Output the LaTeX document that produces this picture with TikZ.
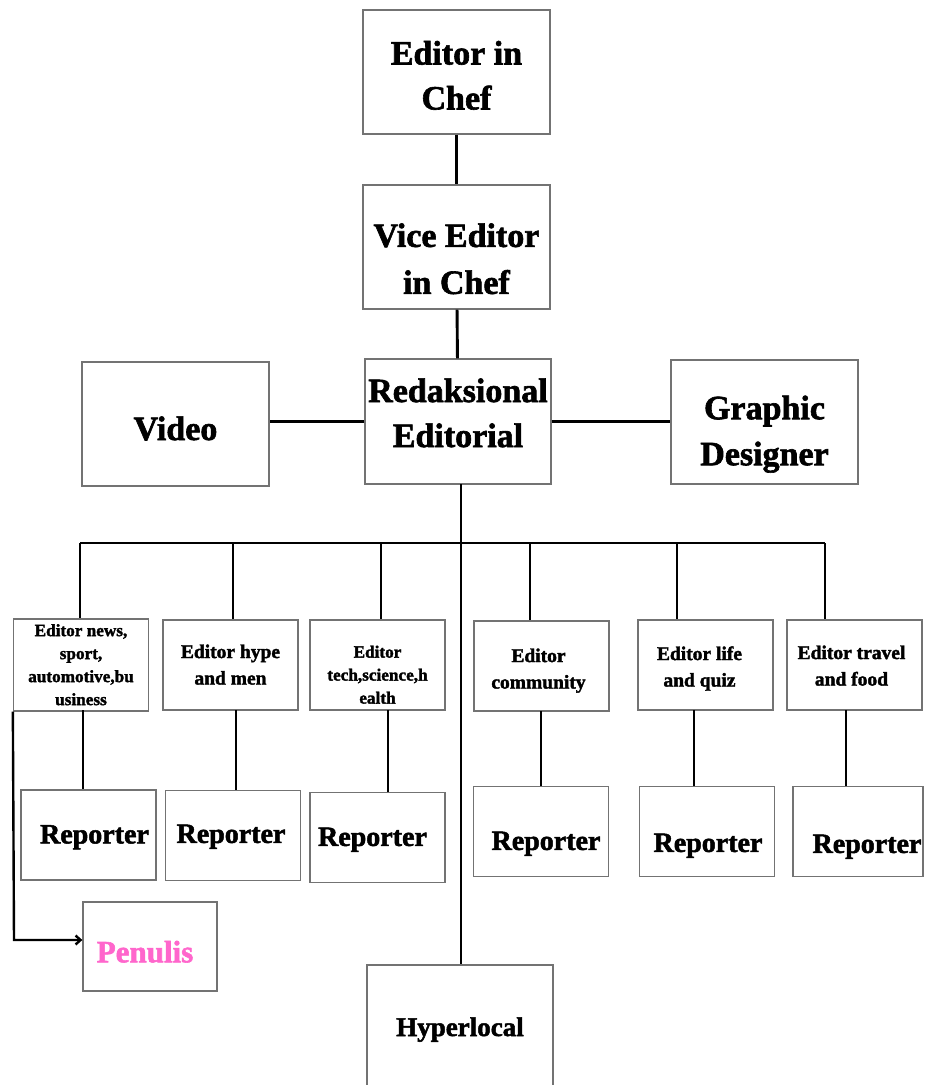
\documentclass[tikz,border=0pt]{standalone}
\usepackage{fontspec}
\setmainfont{Liberation Serif}[BoldFeatures={FakeBold=1.8}]
\usetikzlibrary{arrows.meta}
\definecolor{boxgray}{RGB}{115,115,115}
\definecolor{penpink}{RGB}{255,102,204}
% shift the text inside a box by (dx,dy) without changing the box size
\newcommand{\mvtext}[3]{\raisebox{#2}[\height][\depth]{\hspace*{#1}\begin{tabular}{@{}c@{}}#3\end{tabular}\hspace*{-#1}}}
\tikzset{
  box/.style={draw=boxgray, line width=1.3pt, fill=white, inner sep=0pt, align=center, font=\bfseries},
  big/.style={box, font=\fontsize{34}{45}\selectfont\bfseries},
  ed/.style={box, minimum width=135pt, minimum height=90pt, font=\fontsize{19.5}{26.5}\selectfont\bfseries},
  eds/.style={box, minimum width=135pt, minimum height=90pt, font=\fontsize{17.2}{23}\selectfont\bfseries},
  rep/.style={box, minimum width=135pt, minimum height=90pt, font=\fontsize{28}{32}\selectfont\bfseries},
  conn/.style={line width=2.9pt, black},
}
\begin{document}
\begin{tikzpicture}[x=1pt,y=-1pt]
\useasboundingbox (0,0) rectangle (927,1085);
\clip (0,0) rectangle (927,1085);
% top chain
\node[big, minimum width=187pt, minimum height=124pt] (eic) at (456.5,72) {\mvtext{0pt}{-6pt}{Editor in\\Chef}};
\node[big, minimum width=187pt, minimum height=124pt, font=\fontsize{34}{47}\selectfont\bfseries] (vice) at (456.5,247) {\mvtext{0pt}{-14pt}{Vice Editor\\in Chef}};
\node[big, minimum width=186pt, minimum height=125pt] (red) at (458,421.5) {\mvtext{0pt}{6pt}{Redaksional\\Editorial}};
\node[big, minimum width=187pt, minimum height=124pt] (video) at (175.5,424) {\mvtext{0pt}{-7pt}{Video}};
\node[big, minimum width=187pt, minimum height=124pt, font=\fontsize{34}{46}\selectfont\bfseries] (graphic) at (764.5,422) {\mvtext{0pt}{-11pt}{Graphic\\Designer}};
\node[box, minimum width=186pt, minimum height=124pt, font=\fontsize{27}{30}\selectfont\bfseries] (hyper) at (460,1027) {\mvtext{0pt}{-3pt}{Hyperlocal}};
% editors
\node[eds] (e1) at (81,665) {\mvtext{0pt}{-1pt}{Editor news,\\sport,\\automotive,bu\\usiness}};
\node[ed] (e2) at (230.5,665) {\mvtext{0pt}{-1pt}{Editor hype\\and men}};
\node[eds] (e3) at (377.5,665) {\mvtext{0pt}{-11pt}{Editor\\tech,science,h\\ealth}};
\node[ed] (e4) at (541.5,666) {\mvtext{-3pt}{-4pt}{Editor\\community}};
\node[ed] (e5) at (705.5,665) {\mvtext{-6pt}{-3pt}{Editor life\\and quiz}};
\node[ed] (e6) at (854.5,665) {\mvtext{-3pt}{-2pt}{Editor travel\\and food}};
% reporters
\node[rep] (r1) at (88.5,835) {\mvtext{6pt}{-2pt}{Reporter}};
\node[rep] (r2) at (233,835.5) {\mvtext{-2pt}{-1pt}{Reporter}};
\node[rep] (r3) at (377.5,837.5) {\mvtext{-5pt}{-2pt}{Reporter}};
\node[rep] (r4) at (541,831.5) {\mvtext{5pt}{-12pt}{Reporter}};
\node[rep] (r5) at (707,831.5) {\mvtext{1pt}{-14pt}{Reporter}};
\node[rep, minimum width=130pt] (r6) at (858,831.5) {\mvtext{9pt}{-15pt}{Reporter}};
\node[box, minimum width=134pt, minimum height=89pt, text=penpink, font=\fontsize{31}{34}\selectfont\bfseries] (pen) at (150,946.5) {\mvtext{-5pt}{-9pt}{Penulis}};
% connectors top
\draw[conn] (eic) -- (vice);
\draw[conn] (vice) -- (red);
\draw[conn] (red.west) -- (red.west -| video.east);
\draw[conn] (red.east) -- (red.east -| graphic.west);
\coordinate (trunk) at (461,484);
\draw[conn] (trunk) -- (trunk |- hyper.north);
% bus
\coordinate (b1) at (80,543);
\coordinate (b2) at (233,543);
\coordinate (b3) at (381,543);
\coordinate (b4) at (530,543);
\coordinate (b5) at (677,543);
\coordinate (b6) at (825,543);
\draw[conn] (b1) -- (b6);
\foreach \i in {1,...,6} {\draw[conn] (b\i) -- (b\i |- e\i.north);}
% editor -> reporter
\coordinate (s1) at (83,710);
\coordinate (s2) at (236,710);
\coordinate (s3) at (388,710);
\coordinate (s4) at (541,711);
\coordinate (s5) at (694,710);
\coordinate (s6) at (846,710);
\foreach \i in {1,...,6} {\draw[conn] (s\i) -- (s\i |- r\i.north);}
% penulis arrow
\coordinate (pa) at (14,940);
\draw[conn, line width=2.4pt, -{Straight Barb[length=5pt,width=9pt]}] (e1.south west) -- (pa) -- (pa -| pen.west);
\end{tikzpicture}
\end{document}
